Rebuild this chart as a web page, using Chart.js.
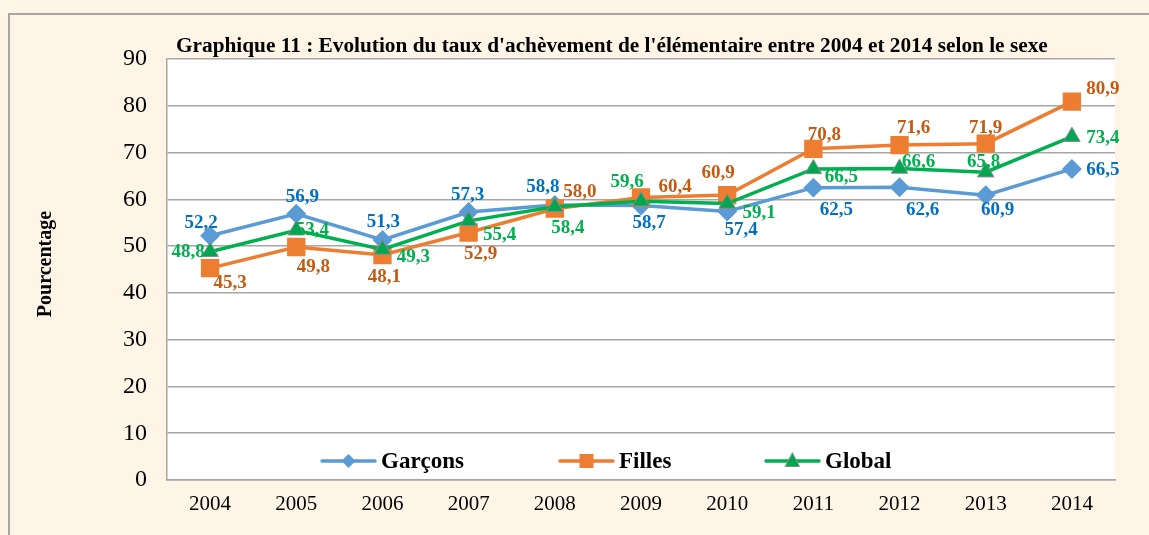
<!DOCTYPE html>
<html>
<head>
<meta charset="utf-8">
<script src="https://cdn.jsdelivr.net/npm/chart.js@4/dist/chart.umd.min.js"></script>
<style>
html, body { margin: 0; padding: 0; background: #fff; }
#chart { display: block; }
</style>
</head>
<body>
<canvas id="chart" width="1149" height="535"></canvas>
<script>
// Data
const years = ['2004', '2005', '2006', '2007', '2008', '2009', '2010', '2011', '2012', '2013', '2014'];
const garcons = [52.2, 56.9, 51.3, 57.3, 58.8, 58.7, 57.4, 62.5, 62.6, 60.9, 66.5];
const filles = [45.3, 49.8, 48.1, 52.9, 58.0, 60.4, 60.9, 70.8, 71.6, 71.9, 80.9];
const global_rate = [48.8, 53.4, 49.3, 55.4, 58.4, 59.6, 59.1, 66.5, 66.6, 65.8, 73.4];

const title_text = "Graphique 11 : Evolution du taux d'achèvement de l'élémentaire entre 2004 et 2014 selon le sexe";
const serif = "'Liberation Serif', 'Times New Roman', serif";

// where each value label sits, relative to its point (px)
const offs_garcons = [[-9,-13],[6,-17],[1,-18],[-1,-17],[-12,-18],[8,18],[14,19],[23,22],[23,23],[12,15],[31,1]];
const offs_filles = [[20,15],[17,20],[2,22],[12,22],[25,-17],[34,-10],[-9,-22],[11,-14],[14,-17],[0,-16],[31,-12]];
const offs_global = [[-22,0],[16,0],[31,8],[31,14],[13,21],[-14,-19],[32,10],[28,8],[19,-6],[-2,-10],[31,1]];

const fmt = v => v.toFixed(1).replace('.', ',');

// cream background, frame, white plot area
const background = {
  id: 'background',
  beforeDraw(chart) {
    const ctx = chart.ctx, a = chart.chartArea;
    ctx.save();
    ctx.fillStyle = '#fef5e7';
    ctx.fillRect(0, 0, chart.width, chart.height);
    ctx.strokeStyle = '#a6a6a6';
    ctx.lineWidth = 2;
    ctx.strokeRect(9, 14, chart.width + 20, chart.height + 20);
    ctx.fillStyle = '#ffffff';
    ctx.fillRect(a.left, a.top, a.right - a.left, a.bottom - a.top);
    ctx.restore();
  }
};

// title and y axis label
const texts = {
  id: 'texts',
  afterDraw(chart) {
    const ctx = chart.ctx, a = chart.chartArea;
    ctx.save();
    ctx.fillStyle = '#000';
    ctx.font = 'bold 21.3px ' + serif;
    ctx.textAlign = 'left';
    ctx.textBaseline = 'alphabetic';
    ctx.fillText(title_text, a.left + 9, 52);
    ctx.translate(46, 264);
    ctx.rotate(-Math.PI / 2);
    ctx.textAlign = 'center';
    ctx.textBaseline = 'middle';
    ctx.font = 'bold 20px ' + serif;
    ctx.fillText('Pourcentage', 0, 0);
    ctx.restore();
  }
};

// value labels
const valueLabels = {
  id: 'valueLabels',
  afterDatasetsDraw(chart) {
    const ctx = chart.ctx;
    ctx.save();
    ctx.font = 'bold 19px ' + serif;
    ctx.textAlign = 'center';
    ctx.textBaseline = 'middle';
    chart.data.datasets.forEach((ds, di) => {
      const meta = chart.getDatasetMeta(di);
      ctx.fillStyle = ds.labelColor;
      meta.data.forEach((pt, i) => {
        const o = ds.labelOffsets[i];
        ctx.fillText(fmt(ds.data[i]), pt.x + o[0], pt.y + o[1]);
      });
    });
    ctx.restore();
  }
};

function marker(ctx, style, x, y, fill, border) {
  ctx.fillStyle = fill;
  ctx.beginPath();
  if (style === 'rectRot') {
    ctx.moveTo(x, y - 7); ctx.lineTo(x + 7, y); ctx.lineTo(x, y + 7); ctx.lineTo(x - 7, y);
  } else if (style === 'rect') {
    ctx.rect(x - 7, y - 7, 14, 14);
  } else {
    ctx.moveTo(x, y - 8); ctx.lineTo(x + 7, y + 5.5); ctx.lineTo(x - 7, y + 5.5);
  }
  ctx.closePath();
  ctx.fill();
  if (border) { ctx.strokeStyle = border; ctx.lineWidth = 1; ctx.stroke(); }
}

// legend inside the bottom of the plot area
const insideLegend = {
  id: 'insideLegend',
  afterDraw(chart) {
    const ctx = chart.ctx, a = chart.chartArea;
    const y = a.bottom - 19;
    const starts = [155, 393, 599];
    ctx.save();
    ctx.font = 'bold 23px ' + serif;
    ctx.textBaseline = 'middle';
    ctx.textAlign = 'left';
    chart.data.datasets.forEach((ds, i) => {
      const x0 = a.left + starts[i];
      ctx.strokeStyle = ds.borderColor;
      ctx.lineWidth = 3.5;
      ctx.lineCap = 'round';
      ctx.beginPath();
      ctx.moveTo(x0, y);
      ctx.lineTo(x0 + 53, y);
      ctx.stroke();
      marker(ctx, ds.pointStyle, x0 + 26.5, y, ds.pointBackgroundColor, ds.pointStyle === 'triangle' ? '#8c8c8c' : null);
      ctx.fillStyle = '#000';
      ctx.fillText(ds.label, x0 + 59, y + 1);
    });
    ctx.restore();
  }
};

new Chart(document.getElementById('chart'), {
  type: 'line',
  data: {
    labels: years,
    datasets: [
      {
        label: 'Garçons',
        data: garcons,
        borderColor: '#5b9bd5',
        backgroundColor: '#5b9bd5',
        pointBackgroundColor: '#5b9bd5',
        pointBorderColor: '#5b9bd5',
        pointStyle: 'rectRot',
        pointRadius: 7.5,
        borderWidth: 3.5,
        labelColor: '#0070c0',
        labelOffsets: offs_garcons,
        order: 2
      },
      {
        label: 'Filles',
        data: filles,
        borderColor: '#ed7d31',
        backgroundColor: '#ed7d31',
        pointBackgroundColor: '#ed7d31',
        pointBorderColor: '#ed7d31',
        pointStyle: 'rect',
        pointRadius: 10.5,
        borderWidth: 3.5,
        labelColor: '#c55a11',
        labelOffsets: offs_filles,
        order: 1
      },
      {
        label: 'Global',
        data: global_rate,
        borderColor: '#00b050',
        backgroundColor: '#00a650',
        pointBackgroundColor: '#00a650',
        pointBorderColor: '#8c8c8c',
        pointBorderWidth: 1,
        pointStyle: 'triangle',
        pointRadius: 9.5,
        borderWidth: 3.5,
        labelColor: '#00b050',
        labelOffsets: offs_global,
        order: 0
      }
    ]
  },
  options: {
    responsive: false,
    animation: false,
    devicePixelRatio: 1,
    layout: { padding: { top: 59, right: 34, left: 0, bottom: 0 } },
    plugins: {
      legend: { display: false },
      title: { display: false },
      tooltip: { enabled: false }
    },
    scales: {
      x: {
        offset: true,
        grid: { display: false, drawTicks: false },
        border: { display: true, color: '#a6a6a6', width: 1.5 },
        ticks: { color: '#000', font: { family: serif, size: 21 }, padding: 12 },
        afterFit: s => { s.height = 55; }
      },
      y: {
        min: 0,
        max: 90,
        grid: { color: '#a6a6a6', lineWidth: 1.5, drawTicks: false },
        border: { display: true, color: '#a6a6a6', width: 1.5 },
        ticks: { stepSize: 10, color: '#000', font: { family: serif, size: 24 }, padding: 20 },
        afterFit: s => { s.width = 167; }
      }
    }
  },
  plugins: [background, texts, valueLabels, insideLegend]
});
</script>
</body>
</html>
